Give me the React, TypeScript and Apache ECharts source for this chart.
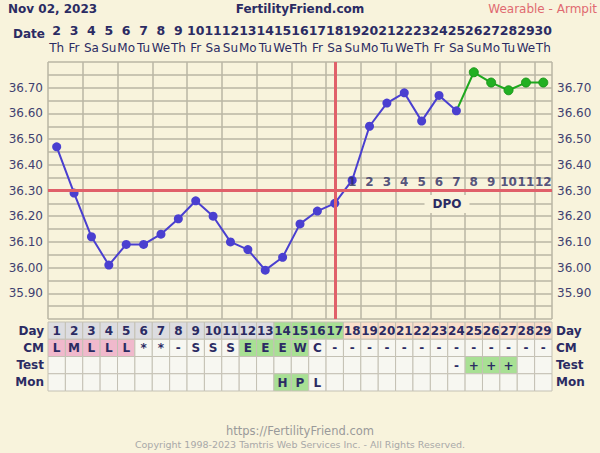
import React, { useEffect, useRef } from 'react';
import * as echarts from 'echarts';

const cycleDays = ['1','2','3','4','5','6','7','8','9','10','11','12','13','14','15','16','17','18','19','20','21','22','23','24','25','26','27','28','29'];
const dates = ['2','3','4','5','6','7','8','9','10','11','12','13','14','15','16','17','18','19','20','21','22','23','24','25','26','27','28','29','30'];
const weekdays = ['Th','Fr','Sa','Su','Mo','Tu','We','Th','Fr','Sa','Su','Mo','Tu','We','Th','Fr','Sa','Su','Mo','Tu','We','Th','Fr','Sa','Su','Mo','Tu','We','Th'];
const temps = [36.47,36.29,36.12,36.01,36.09,36.09,36.13,36.19,36.26,36.20,36.10,36.07,35.99,36.04,36.17,36.22,36.25,36.34,36.55,36.64,36.68,36.57,36.67,36.61,36.76,36.72,36.69,36.72,36.72];
const cmValues = ['L','M','L','L','L','*','*','-','S','S','S','E','E','E','W','C','-','-','-','-','-','-','-','-','-','-','-','-','-'];
const testValues = ['','','','','','','','','','','','','','','','','','','','','','','','-','+','+','+','',''];
const monValues = ['','','','','','','','','','','','','','H','P','L','','','','','','','','','','','','',''];
const rowNames = ['Day','CM','Test','Mon'];
const coverline = 36.30;
const ovulationDay = 17;
const fertileStart = 14;
const highlightStartDay = 25;

const NAVY = '#2b2b63';
const AXIS_TXT = '#3f3f70';
const GRID = '#bab6a5';
const RED = '#e0606a';
const BLUE = '#4a3fd0';
const GREEN = '#1ea81e';
const FONT = 'DejaVu Sans';

function buildTable() {
  const rows: any[] = [];
  cycleDays.forEach((d, i) => {
    const day = i + 1;
    let fill = '#dcdce0';
    if (day >= fertileStart && day <= ovulationDay) fill = '#a8e094';
    else if (day > ovulationDay) fill = '#f9dfcb';
    rows.push([i, 0, d, fill]);
  });
  cmValues.forEach((v, i) => {
    let fill = '#f7f7f1';
    if (v === 'L' || v === 'M' || v === 'H') fill = '#f0b9cc';
    else if (v === 'E' || v === 'W') fill = '#a8e094';
    rows.push([i, 1, v, fill]);
  });
  testValues.forEach((v, i) => {
    rows.push([i, 2, v, v === '+' ? '#a8e094' : '#f7f7f1']);
  });
  monValues.forEach((v, i) => {
    rows.push([i, 3, v, v === 'H' || v === 'P' ? '#a8e094' : '#f7f7f1']);
  });
  return rows;
}

const tableRows = buildTable();

function tempLabel(v: number) {
  const r = Math.round(v * 100);
  if (r % 10 !== 0 || r === 3580 || r === 3680) return '';
  return (r / 100).toFixed(2);
}

export default function App() {
  const ref = useRef<HTMLDivElement>(null);
  useEffect(() => {
    const chart = echarts.init(ref.current!, null, { renderer: 'svg' });
    const hi = highlightStartDay - 1;
    const blueData = temps.map((t, i) => (i < hi ? t : null));
    const greenData = temps.map((t, i) =>
      i === hi - 1 ? { value: t, symbol: 'none' } : i >= hi ? t : null
    );
    const dpoData = cycleDays
      .map((d, i) => (i + 1 > ovulationDay ? { value: [i, coverline], name: String(i + 1 - ovulationDay) } : null))
      .filter(Boolean);
    const option: any = {
      animation: false,
      backgroundColor: '#f8f3dc',
      textStyle: { fontFamily: FONT },
      grid: [
        { left: 48, top: 62, width: 504, height: 257 },
        { left: 48, top: 322, width: 504, height: 69 },
      ],
      xAxis: [
        {
          gridIndex: 0, type: 'category', data: cycleDays, boundaryGap: true,
          axisLine: { show: false }, axisTick: { show: false }, axisLabel: { show: false },
          splitLine: { show: true, lineStyle: { color: GRID, width: 1.5 } },
        },
        {
          gridIndex: 0, type: 'category', position: 'top', data: dates, boundaryGap: true,
          axisLine: { show: false }, axisTick: { show: false }, splitLine: { show: false },
          axisLabel: {
            interval: 0, margin: 6,
            formatter: (v: string, i: number) => `{a|${v}}\n{b|${weekdays[i]}}`,
            rich: {
              a: { fontFamily: FONT, fontWeight: 'bold', fontSize: 12.5, color: NAVY, lineHeight: 17 },
              b: { fontFamily: FONT, fontSize: 12, color: NAVY, lineHeight: 17 },
            },
          },
        },
        {
          gridIndex: 1, type: 'category', data: cycleDays, boundaryGap: true,
          axisLine: { show: false }, axisTick: { show: false }, axisLabel: { show: false }, splitLine: { show: false },
        },
      ],
      yAxis: [
        {
          gridIndex: 0, type: 'value', min: 35.8, max: 36.8, interval: 0.05,
          axisLine: { show: false }, axisTick: { show: false },
          axisLabel: { formatter: tempLabel, color: AXIS_TXT, fontSize: 12, fontFamily: FONT, margin: 5 },
          splitLine: { show: true, lineStyle: { color: GRID, width: 1.5 } },
        },
        {
          gridIndex: 0, type: 'value', position: 'right', min: 35.8, max: 36.8, interval: 0.05,
          axisLine: { show: false }, axisTick: { show: false }, splitLine: { show: false },
          axisLabel: { formatter: tempLabel, color: AXIS_TXT, fontSize: 12, fontFamily: FONT, margin: 5 },
        },
        {
          gridIndex: 1, type: 'category', data: rowNames, inverse: true,
          axisLine: { show: false }, axisTick: { show: false }, splitLine: { show: false },
          axisLabel: { color: NAVY, fontWeight: 'bold', fontSize: 12, fontFamily: FONT, margin: 4 },
        },
        {
          gridIndex: 1, type: 'category', data: rowNames, inverse: true, position: 'right',
          axisLine: { show: false }, axisTick: { show: false }, splitLine: { show: false },
          axisLabel: { color: NAVY, fontWeight: 'bold', fontSize: 12, fontFamily: FONT, margin: 4 },
        },
      ],
      series: [
        {
          type: 'line', xAxisIndex: 0, yAxisIndex: 0, data: greenData,
          symbol: 'circle', symbolSize: 9, z: 3,
          lineStyle: { color: GREEN, width: 2 },
          itemStyle: { color: '#22b022', borderColor: '#1b961b', borderWidth: 1 },
        },
        {
          type: 'line', xAxisIndex: 0, yAxisIndex: 0, data: blueData,
          symbol: 'circle', symbolSize: 9, z: 4,
          lineStyle: { color: BLUE, width: 2 },
          itemStyle: { color: BLUE },
          markLine: {
            silent: true, symbol: 'none', label: { show: false },
            lineStyle: { color: RED, width: 3, type: 'solid' },
            data: [{ yAxis: coverline }, { xAxis: String(ovulationDay) }],
          },
        },
        {
          type: 'scatter', xAxisIndex: 0, yAxisIndex: 0, data: dpoData, symbolSize: 0, z: 6,
          label: {
            show: true, position: 'top', distance: 3, formatter: (p: any) => p.name,
            color: NAVY, fontWeight: 'bold', fontSize: 12, fontFamily: FONT,
          },
        },
        {
          type: 'custom', xAxisIndex: 2, yAxisIndex: 2, data: tableRows,
          encode: { x: 0, y: 1 },
          renderItem: (params: any, api: any) => {
            const c = api.value(0);
            const r = api.value(1);
            const d = tableRows[params.dataIndex];
            const pt = api.coord([c, r]);
            const sz = api.size([1, 1]);
            return {
              type: 'group',
              children: [
                {
                  type: 'rect',
                  shape: { x: pt[0] - sz[0] / 2, y: pt[1] - sz[1] / 2, width: sz[0], height: sz[1] },
                  style: { fill: d[3], stroke: '#c4c1b4', lineWidth: 1 },
                },
                {
                  type: 'text',
                  style: {
                    text: d[2], x: pt[0], y: pt[1] + 0.5, align: 'center', verticalAlign: 'middle',
                    fill: NAVY, font: `bold 12px "${FONT}"`,
                  },
                },
              ],
            };
          },
        },
      ],
      graphic: [
        { type: 'text', x: 8, y: 9, style: { text: 'Nov 02, 2023', fill: NAVY, font: `bold 12px "${FONT}"`, verticalAlign: 'middle' } },
        { type: 'text', x: 300, y: 9, style: { text: 'FertilityFriend.com', fill: NAVY, font: `bold 12px "${FONT}"`, align: 'center', verticalAlign: 'middle' } },
        { type: 'text', x: 597, y: 9, style: { text: 'Wearable - Armpit', fill: '#e06a70', font: `12px "${FONT}"`, align: 'right', verticalAlign: 'middle' } },
        { type: 'text', x: 45, y: 34, style: { text: 'Date', fill: NAVY, font: `bold 12px "${FONT}"`, align: 'right', verticalAlign: 'middle' } },
        {
          type: 'text', x: 447, y: 204, z: 10,
          style: {
            text: 'DPO', fill: NAVY, font: `bold 12px "${FONT}"`, align: 'center', verticalAlign: 'middle',
            backgroundColor: '#f8f3dc', padding: [3, 8],
          },
        },
        { type: 'text', x: 300, y: 431, style: { text: 'https://FertilityFriend.com', fill: '#9a9a9a', font: `11.5px "${FONT}"`, align: 'center', verticalAlign: 'middle' } },
        { type: 'text', x: 300, y: 444, style: { text: 'Copyright 1998-2023 Tamtris Web Services Inc. - All Rights Reserved.', fill: '#a8a8a8', font: `9.5px "${FONT}"`, align: 'center', verticalAlign: 'middle' } },
      ],
    };
    chart.setOption(option);
    return () => chart.dispose();
  }, []);
  return <div ref={ref} style={{ position: 'absolute', left: 0, top: 0, width: 600, height: 453 }} />;
}
